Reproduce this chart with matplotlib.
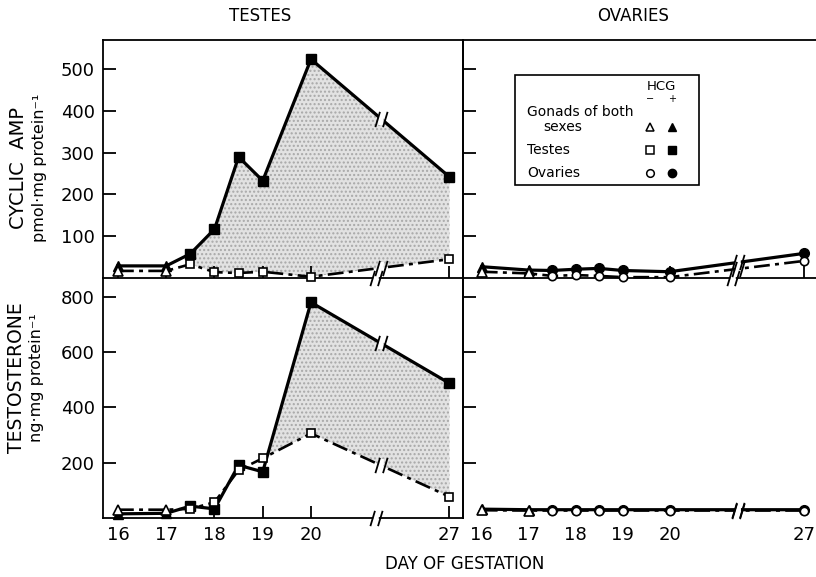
import numpy as np
import matplotlib.pyplot as plt
from matplotlib.path import Path
from matplotlib.patches import Rectangle

# dados (dias de gestacao; 16 e 17 = gonadas de ambos os sexos)
days = [16, 17, 17.5, 18, 18.5, 19, 20, 27]
camp_testes_hcg = [29, 29, 58, 117, 290, 233, 524, 242]
camp_testes_ctrl = [17, 17, 33, 14, 12, 15, 3, 45]
testo_testes_hcg = [15, 17, 43, 33, 191, 167, 780, 487]
testo_testes_ctrl = [30, 30, 33, 57, 173, 216, 306, 77]
camp_ovaries_hcg = [27, 19, 18, 21, 23, 18, 15, 59]
camp_ovaries_ctrl = [15, 11, 5, 7, 5, 2, 2, 41]
testo_ovaries_hcg = [32, 30, 30, 30, 30, 30, 30, 30]
testo_ovaries_ctrl = [28, 27, 27, 27, 27, 27, 27, 27]
xtick_days = [16, 17, 18, 19, 20, 27]
camp_ticks = [100, 200, 300, 400, 500]
testo_ticks = [200, 400, 600, 800]

plt.rcParams['font.family'] = 'DejaVu Sans'


def tx(d):
    # eixo com quebra entre 20 e 27
    d = np.asarray(d, dtype=float)
    return np.where(d <= 20, d, 20 + (d - 20) * 0.41)


X = tx(days)
XBRK = 21.45
brk = Path([(-0.8, -1), (-0.2, 1), (0.2, -1), (0.8, 1)],
           [Path.MOVETO, Path.LINETO, Path.MOVETO, Path.LINETO])
DASHDOT = (0, (6, 2, 1.5, 2))


def add_break(ax, x, y):
    ax.plot([x], [y], marker='|', ms=8, mew=4, color='white', zorder=5, clip_on=False)
    ax.plot([x], [y], marker=brk, ms=11, mfc='none', mec='black', mew=1.3,
            zorder=6, clip_on=False)


def plot_pair(ax, hcg, ctrl, sym_open, fill_from=None):
    ax.plot(X, hcg, color='black', lw=2.3, zorder=3, clip_on=False)
    ax.plot(X, ctrl, color='black', lw=1.9, ls=DASHDOT, zorder=3, clip_on=False)
    # triangulos nos dias 16 e 17
    ax.plot(X[:2], hcg[:2], '^', color='black', ms=7, zorder=4, clip_on=False)
    ax.plot(X[:2], ctrl[:2], '^', mfc='white', mec='black', mew=1.2, ms=6.5,
            zorder=4, clip_on=False)
    ax.plot(X[2:], hcg[2:], sym_open, color='black', ms=7, zorder=4, clip_on=False)
    ax.plot(X[2:], ctrl[2:], sym_open, mfc='white', mec='black', mew=1.2, ms=6,
            zorder=4, clip_on=False)
    if fill_from is not None:
        h = np.asarray(hcg[fill_from:], float)
        c = np.asarray(ctrl[fill_from:], float)
        ax.fill_between(X[fill_from:], c, h, where=h >= c, interpolate=True,
                        facecolor='#e2e2e2', edgecolor='#a8a8a8', hatch='....',
                        linewidth=0, zorder=1)
    add_break(ax, XBRK, np.interp(XBRK, X, hcg))
    add_break(ax, XBRK, np.interp(XBRK, X, ctrl))


fig = plt.figure(figsize=(8.16, 5.77), dpi=100)
W, H = 816, 577
ax_tl = fig.add_axes([103 / W, 1 - 278 / H, 360 / W, 238 / H])
ax_bl = fig.add_axes([103 / W, 1 - 518 / H, 360 / W, 240 / H])
ax_tr = fig.add_axes([463 / W, 1 - 278 / H, 353 / W, 238 / H])
ax_br = fig.add_axes([463 / W, 1 - 518 / H, 353 / W, 240 / H])

plot_pair(ax_tl, camp_testes_hcg, camp_testes_ctrl, 's', fill_from=2)
plot_pair(ax_bl, testo_testes_hcg, testo_testes_ctrl, 's', fill_from=5)
plot_pair(ax_tr, camp_ovaries_hcg, camp_ovaries_ctrl, 'o')
plot_pair(ax_br, testo_ovaries_hcg, testo_ovaries_ctrl, 'o')

for ax in (ax_tl, ax_bl):
    ax.set_xlim(15.69, 23.15)
for ax in (ax_tr, ax_br):
    ax.set_xlim(15.6, 23.12)
for ax in (ax_tl, ax_tr):
    ax.set_ylim(0, 570)
    ax.set_yticks(camp_ticks)
for ax in (ax_bl, ax_br):
    ax.set_ylim(0, 868)
    ax.set_yticks(testo_ticks)

for ax in (ax_tl, ax_bl, ax_tr, ax_br):
    ax.set_xticks(tx(xtick_days))
    ax.tick_params(direction='in', length=9, width=1.3, labelsize=13, pad=6)
    for s in ax.spines.values():
        s.set_linewidth(1.3)
    ax.patch.set_alpha(0)

ax_tl.tick_params(labelbottom=False)
ax_tr.tick_params(labelbottom=False, labelleft=False)
ax_br.tick_params(labelleft=False)
ax_bl.set_xticklabels([str(d) for d in xtick_days])
ax_br.set_xticklabels([str(d) for d in xtick_days])
ax_bl.set_yticklabels([str(v) for v in testo_ticks])
ax_tl.set_yticklabels([str(v) for v in camp_ticks])

ax_tr.spines['right'].set_visible(False)
ax_br.spines['right'].set_visible(False)
ax_br.spines['top'].set_visible(False)
ax_br.spines['bottom'].set_visible(False)
ax_br.tick_params(bottom=False)
ax_bl.spines['top'].set_visible(False)

# quebras no eixo x
for ax in (ax_tl, ax_bl, ax_tr):
    add_break(ax, XBRK - 0.1, 0)

# legenda desenhada a mao
t = ax_tr.transAxes
ax_tr.add_patch(Rectangle((0.147, 0.391), 0.522, 0.462, transform=t, fill=False,
                          lw=1.2, ec='black', zorder=5))
ax_tr.text(0.561, 0.805, 'HCG', transform=t, ha='center', va='center', fontsize=9.5)
ax_tr.text(0.530, 0.752, '\u2212', transform=t, ha='center', va='center', fontsize=7)
ax_tr.text(0.592, 0.752, '+', transform=t, ha='center', va='center', fontsize=7)
ax_tr.text(0.181, 0.697, 'Gonads of both', transform=t, ha='left', va='center', fontsize=10)
ax_tr.text(0.227, 0.636, 'sexes', transform=t, ha='left', va='center', fontsize=10)
ax_tr.text(0.181, 0.538, 'Testes', transform=t, ha='left', va='center', fontsize=10)
ax_tr.text(0.181, 0.441, 'Ovaries', transform=t, ha='left', va='center', fontsize=10)
legend_rows = [(0.636, '^'), (0.538, 's'), (0.441, 'o')]
for yy, m in legend_rows:
    ax_tr.plot([0.530], [yy], m, mfc='white', mec='black', mew=1.1, ms=5.5,
               transform=t, clip_on=False, zorder=6)
    ax_tr.plot([0.592], [yy], m, color='black', ms=6, transform=t,
               clip_on=False, zorder=6)

# titulos e rotulos
fig.text(260 / W, 1 - 16 / H, 'TESTES', ha='center', va='center', fontsize=12)
fig.text(633 / W, 1 - 16 / H, 'OVARIES', ha='center', va='center', fontsize=12)
fig.text(465 / W, 1 - 564 / H, 'DAY OF GESTATION', ha='center', va='center', fontsize=12)
fig.text(19 / W, 1 - 168 / H, 'CYCLIC  AMP', rotation=90, ha='center', va='center',
         fontsize=14)
fig.text(40 / W, 1 - 168 / H, 'pmol\u00b7mg protein\u207b\u00b9', rotation=90,
         ha='center', va='center', fontsize=11.5)
fig.text(17 / W, 1 - 378 / H, 'TESTOSTERONE', rotation=90, ha='center', va='center',
         fontsize=13.5)
fig.text(37 / W, 1 - 378 / H, 'ng\u00b7mg protein\u207b\u00b9', rotation=90,
         ha='center', va='center', fontsize=11.5)

fig.savefig('out.png', dpi=100)
